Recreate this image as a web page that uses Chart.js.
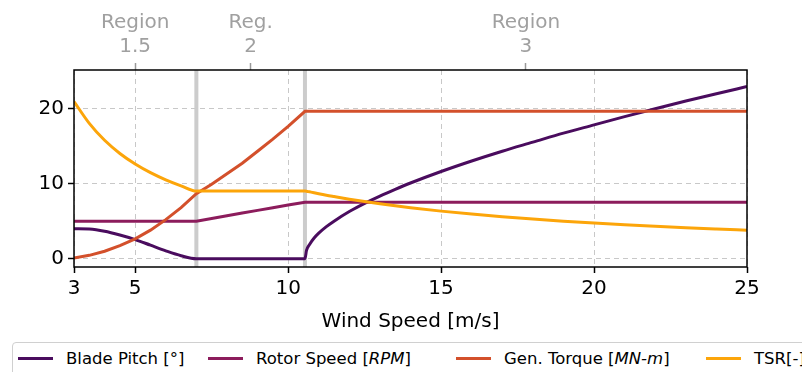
<!DOCTYPE html>
<html>
<head>
<meta charset="utf-8">
<script src="https://cdn.jsdelivr.net/npm/chart.js@4.4.0/dist/chart.umd.min.js"></script>
<style>
  body { margin: 0; background: #fff; font-family: 'DejaVu Sans', sans-serif; }
  #wrap { position: relative; width: 802px; height: 372px; overflow: hidden; }
  #plot { position: absolute; left: 0; top: 0; width: 802px; height: 338px; }
  #legend {
    position: absolute; left: 12px; top: 342px; width: 820px; height: 40px;
    border: 1px solid #d0d0d0; border-radius: 4px; box-sizing: border-box;
  }
  .item { position: absolute; top: 4px; font-size: 16.5px; line-height: 24px; white-space: nowrap; color: #000; }
  .swatch { display: inline-block; width: 35px; height: 3px; vertical-align: middle; margin-right: 13px; position: relative; top: -1px; }
</style>
</head>
<body>
<div id="wrap">
  <div id="plot"><canvas id="chart"></canvas></div>
  <div id="legend"></div>
</div>
<script>
// wind speed sample points [m/s]
const wind = [3, 3.5, 4, 4.5, 5, 5.5, 6, 6.5, 7, 7.5, 8, 8.5, 9, 9.5, 10, 10.55,
  10.6, 10.7, 10.85, 11, 11.25, 11.5, 12, 12.5, 13, 13.5, 14, 15, 16, 17, 18, 19, 20, 21, 22, 23, 24, 25];

// series
const bladePitch = [4.0, 3.95, 3.65, 3.15, 2.55, 1.8, 1.05, 0.4, 0, 0, 0, 0, 0, 0, 0, 0,
  1.1, 1.9, 2.75, 3.4, 4.27, 5.0, 6.28, 7.37, 8.34, 9.23, 10.07, 11.6, 13.0, 14.3, 15.5, 16.7, 17.8, 18.9, 19.95, 20.97, 21.95, 22.9];
const rotorSpeed = [5, 5, 5, 5, 5, 5, 5, 5, 5, 5.36, 5.71, 6.07, 6.43, 6.79, 7.14, 7.5,
  7.5, 7.5, 7.5, 7.5, 7.5, 7.5, 7.5, 7.5, 7.5, 7.5, 7.5, 7.5, 7.5, 7.5, 7.5, 7.5, 7.5, 7.5, 7.5, 7.5, 7.5, 7.5];
const genTorque = [0.1, 0.45, 1.0, 1.75, 2.65, 3.8, 5.2, 6.8, 8.65, 9.9, 11.3, 12.7, 14.3, 15.9, 17.6, 19.6,
  19.6, 19.6, 19.6, 19.6, 19.6, 19.6, 19.6, 19.6, 19.6, 19.6, 19.6, 19.6, 19.6, 19.6, 19.6, 19.6, 19.6, 19.6, 19.6, 19.6, 19.6, 19.6];
const tsr = [20.9, 18.0, 15.75, 14.0, 12.6, 11.45, 10.5, 9.7, 9.0, 9.0, 9.0, 9.0, 9.0, 9.0, 9.0, 9.0,
  8.98, 8.9, 8.78, 8.65, 8.45, 8.27, 7.92, 7.6, 7.31, 7.04, 6.79, 6.33, 5.94, 5.59, 5.28, 5.0, 4.75, 4.52, 4.32, 4.13, 3.96, 3.8];

const xTicks = [3, 5, 10, 15, 20, 25];
const yTicks = [0, 10, 20];
const xMin = 3, xMax = 25, yMin = -1.1, yMax = 25.1;

// region boundaries and top labels
const regionEdges = [7, 10.55];
const regionLabels = [['Region', '1.5'], ['Reg.', '2'], ['Region', '3']];
const bounds = [xMin, ...regionEdges, xMax];
const regionCenters = regionLabels.map((l, i) => (bounds[i] + bounds[i + 1]) / 2);

const seriesNames = ['Blade Pitch [°]', 'Rotor Speed [<i>RPM</i>]', 'Gen. Torque [<i>MN-m</i>]', 'TSR[-]'];
const seriesColors = ['#4a0c5e', '#8c1c5c', '#d3502b', '#fca50a'];
const seriesData = [bladePitch, rotorSpeed, genTorque, tsr];
const smooth = [true, false, false, true];

const font = { family: 'DejaVu Sans', size: 20 };

const datasets = seriesData.map((vals, i) => ({
  label: seriesNames[i],
  data: wind.map((w, j) => ({ x: w, y: vals[j] })),
  borderColor: seriesColors[i],
  borderWidth: 3,
  pointRadius: 0,
  cubicInterpolationMode: smooth[i] ? 'monotone' : 'default',
  tension: 0,
  order: 4 - i
}));

regionEdges.forEach(edge => {
  datasets.push({
    data: [{ x: edge, y: yMin }, { x: edge, y: yMax }],
    borderColor: '#cccccc',
    borderWidth: 4,
    pointRadius: 0,
    order: 10
  });
});

// black box round the axes, like matplotlib spines
const frame = {
  id: 'frame',
  afterDatasetsDraw(chart) {
    const { ctx, chartArea: a } = chart;
    ctx.save();
    ctx.strokeStyle = '#000';
    ctx.lineWidth = 1.5;
    ctx.strokeRect(a.left, a.top, a.right - a.left, a.bottom - a.top);
    ctx.restore();
  }
};

new Chart(document.getElementById('chart'), {
  type: 'line',
  data: { datasets },
  plugins: [frame],
  options: {
    responsive: true,
    maintainAspectRatio: false,
    animation: false,
    layout: { padding: { left: 0, right: 55, top: 0, bottom: 0 } },
    plugins: { legend: { display: false }, tooltip: { enabled: false } },
    scales: {
      x: {
        type: 'linear', position: 'bottom', min: xMin, max: xMax,
        afterBuildTicks: s => { s.ticks = xTicks.map(v => ({ value: v })); },
        afterFit: s => { s.height = 71; },
        grid: { color: '#c8c8c8', lineWidth: 1, tickColor: '#000', tickLength: 6, tickWidth: 1.5, tickBorderDash: [] },
        border: { display: false, dash: [5, 4] },
        ticks: { font, color: '#000', padding: 4, maxRotation: 0 },
        title: { display: true, text: 'Wind Speed [m/s]', font, color: '#000', padding: { top: 2 } }
      },
      x2: {
        type: 'linear', position: 'top', min: xMin, max: xMax,
        afterBuildTicks: s => { s.ticks = regionCenters.map(v => ({ value: v })); },
        afterFit: s => { s.height = 70; },
        grid: { drawOnChartArea: false, tickColor: '#999', tickLength: 7, tickWidth: 1.5 },
        border: { display: false },
        ticks: {
          font, color: '#a0a0a0', padding: 4, maxRotation: 0, autoSkip: false,
          callback: (v, i) => regionLabels[i]
        }
      },
      y: {
        type: 'linear', min: yMin, max: yMax,
        afterBuildTicks: s => { s.ticks = yTicks.map(v => ({ value: v })); },
        afterFit: s => { s.width = 74; },
        grid: { color: '#c8c8c8', lineWidth: 1, tickColor: '#000', tickLength: 6, tickWidth: 1.5, tickBorderDash: [] },
        border: { display: false, dash: [5, 4] },
        ticks: { font, color: '#000', padding: 4 }
      }
    }
  }
});

// legend below the plot (html so the units can be italic)
const legendX = [5, 195, 443, 693];
const legend = document.getElementById('legend');
seriesNames.forEach((name, i) => {
  const el = document.createElement('div');
  el.className = 'item';
  el.style.left = legendX[i] + 'px';
  el.innerHTML = `<span class="swatch" style="background:${seriesColors[i]}"></span>${name}`;
  legend.appendChild(el);
});
</script>
</body>
</html>
